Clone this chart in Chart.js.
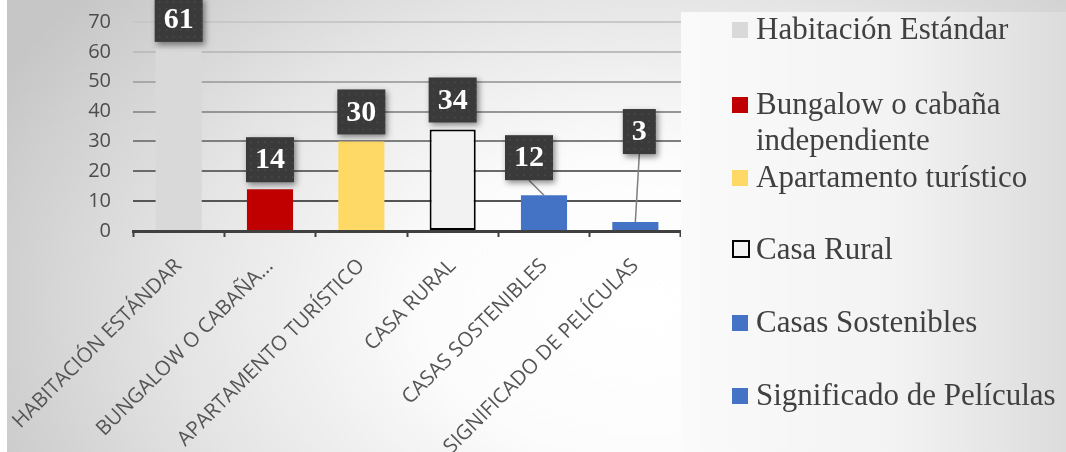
<!DOCTYPE html>
<html>
<head>
<meta charset="utf-8">
<script src="https://cdn.jsdelivr.net/npm/chart.js@4.4.1/dist/chart.umd.min.js"></script>
<style>
    body { margin: 0; background: #fff; }
    #wrap { position: relative; width: 1066px; height: 452px; overflow: hidden; background: #fff; }
    #fondo {
        position: absolute; left: 7px; top: 0; width: 1059px; height: 452px;
        background: radial-gradient(ellipse 68% 110% at 60% 68%, #ffffff 0%, #fcfcfc 30%, #e4e4e4 65%, #c6c6c6 100%);
    }
    #grafico { position: absolute; left: 0; top: 0; }
    #legend {
        position: absolute; left: 681px; top: 12px; width: 385px; height: 440px;
        background: linear-gradient(to right, #fafafa 0%, #f3f3f3 55%, #dcdcdc 100%);
    }
    .item {
        position: absolute; left: 75px; font-family: "Liberation Serif", "Times New Roman", serif;
        font-size: 31px; line-height: 36px; color: #404040; white-space: nowrap;
    }
    .marca { position: absolute; left: -24px; top: 11px; width: 16px; height: 16px; box-sizing: border-box; }
</style>
</head>
<body>
<div id="wrap">
    <div id="fondo"></div>
    <canvas id="grafico" width="1066" height="452"></canvas>
    <div id="legend"></div>
</div>
<script>
const categorias = ['Habitación Estándar', 'Bungalow o cabaña independiente', 'Apartamento turístico', 'Casa Rural', 'Casas Sostenibles', 'Significado de Películas'];
const etiquetasX = ['HABITACIÓN ESTÁNDAR', 'BUNGALOW O CABAÑA...', 'APARTAMENTO TURÍSTICO', 'CASA RURAL', 'CASAS SOSTENIBLES', 'SIGNIFICADO DE PELÍCULAS'];
const valores = [61, 14, 30, 34, 12, 3];
const ticksY = [0, 10, 20, 30, 40, 50, 60, 70];

const cores = ['#d9d9d9', '#c00000', '#ffd966', '#f2f2f2', '#4472c4', '#4472c4'];
const bordas = [0, 0, 0, 2, 0, 0];
// deslocamento das caixas de rótulo (px) e se tem linha guia
const deslocX = [0, 0, 0, 0, -15, 4];
const deslocY = [0, 0, 0, 0, -8, -61];
const linhaGuia = [false, false, false, false, true, true];
const legendaTopo = [-1.5, 73.5, 146.5, 218.5, 291.5, 364.5];
const corGrade = ['#404040', '#555555', '#6a6a6a', '#7f7f7f', '#959595', '#a8a8a8', '#bdbdbd', '#c8c8c8'];

const rotulos = {
    id: 'rotulos',
    afterDatasetsDraw(chart) {
        const c = chart.ctx;
        const meta = chart.getDatasetMeta(0);
        c.save();
        c.font = 'bold 30px "Liberation Serif", "Times New Roman", serif';
        meta.data.forEach((bar, i) => {
            const txt = String(valores[i]);
            const w = c.measureText(txt).width + 18;
            const h = 45;
            const cx = bar.x + deslocX[i];
            const base = bar.y - 7 + deslocY[i];
            if (linhaGuia[i]) {
                c.strokeStyle = '#7f7f7f';
                c.lineWidth = 1.5;
                c.beginPath();
                c.moveTo(cx, base);
                c.lineTo(bar.x, bar.y);
                c.stroke();
            }
            c.save();
            c.shadowColor = 'rgba(0,0,0,0.45)';
            c.shadowBlur = 6;
            c.shadowOffsetX = 2;
            c.shadowOffsetY = 3;
            c.fillStyle = '#3a3a3a';
            c.fillRect(cx - w / 2, base - h, w, h);
            c.restore();
            // pontinhos da textura
            c.fillStyle = 'rgba(255,255,255,0.06)';
            for (let px = cx - w / 2 + 4; px < cx + w / 2; px += 7) {
                for (let py = base - h + 4; py < base; py += 7) {
                    c.fillRect(px, py, 2, 2);
                }
            }
            c.fillStyle = '#ffffff';
            c.textAlign = 'center';
            c.textBaseline = 'middle';
            c.fillText(txt, cx, base - h / 2 + 1);
        });
        c.restore();
    }
};

new Chart(document.getElementById('grafico'), {
    type: 'bar',
    data: {
        labels: categorias,
        datasets: [{
            label: 'Alojamiento',
            data: valores,
            backgroundColor: cores,
            borderColor: '#000000',
            borderWidth: bordas,
            borderSkipped: false,
            categoryPercentage: 1,
            barPercentage: 0.505
        }]
    },
    options: {
        responsive: false,
        animation: false,
        layout: { padding: { left: 0, right: 385, top: 22, bottom: 0 } },
        plugins: {
            legend: { display: false },
            tooltip: { enabled: false }
        },
        scales: {
            x: {
                afterFit: (s) => { s.height = 221; s.paddingLeft = 0; s.paddingRight = 0; },
                grid: {
                    offset: true,
                    drawOnChartArea: false,
                    drawTicks: true,
                    tickLength: 6,
                    tickColor: '#404040',
                    tickWidth: 2
                },
                border: { color: '#404040', width: 3 },
                ticks: {
                    minRotation: 45,
                    maxRotation: 45,
                    autoSkip: false,
                    padding: 17,
                    color: '#555555',
                    font: { family: 'Open Sans', size: 20.5 },
                    callback: (v, i) => etiquetasX[i]
                }
            },
            y: {
                min: 0,
                max: 70,
                afterFit: (s) => { s.width = 133; s.paddingTop = 0; s.paddingBottom = 0; },
                afterBuildTicks: (s) => { s.ticks = ticksY.map(v => ({ value: v })); },
                grid: {
                    drawTicks: false,
                    lineWidth: 2,
                    color: (ctx) => corGrade[ctx.index] || '#999'
                },
                border: { display: false },
                ticks: {
                    padding: 22,
                    color: '#4d4d4d',
                    font: { family: 'Open Sans', size: 20 }
                }
            }
        }
    },
    plugins: [rotulos]
});

// legenda em HTML para permitir quebra de linha
const legend = document.querySelector('#legend');
categorias.forEach((nome, i) => {
    const d = document.createElement('div');
    d.className = 'item';
    d.style.top = legendaTopo[i] + 'px';
    const m = document.createElement('span');
    m.className = 'marca';
    m.style.background = cores[i];
    if (bordas[i]) { m.style.border = '2px solid #000'; m.style.width = '18px'; m.style.height = '18px'; m.style.top = '9px'; }
    d.appendChild(m);
    if (i === 1) {
        d.innerHTML += 'Bungalow o cabaña<br>independiente';
    } else {
        d.appendChild(document.createTextNode(nome));
    }
    legend.appendChild(d);
});
</script>
</body>
</html>
